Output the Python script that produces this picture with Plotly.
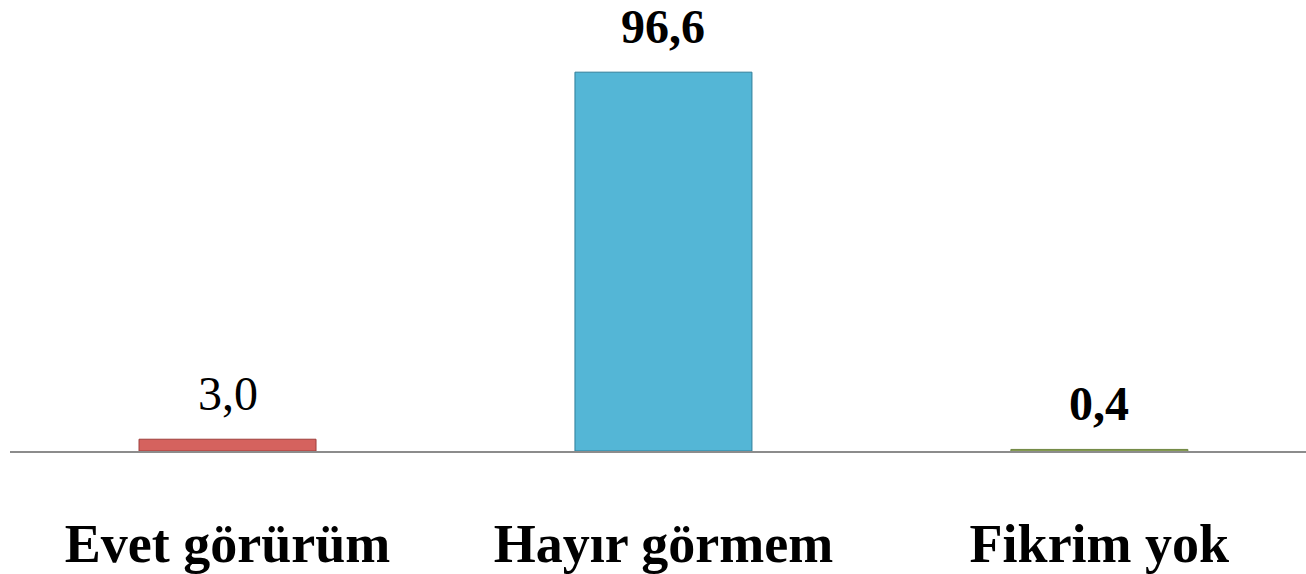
import plotly.graph_objects as go

categories = ["Evet görürüm", "Hayır görmem", "Fikrim yok"]
values = [3.0, 96.6, 0.4]
value_labels = ["3,0", "96,6", "0,4"]
label_weights = ["normal", "bold", "bold"]
bar_colors = ["#D5625E", "#54B6D6", "#9BB463"]
edge_colors = ["#9E3F3C", "#2F7E99", "#6E8540"]

SERIF = "Liberation Serif, DejaVu Serif, serif"

fig = go.Figure()
fig.add_trace(go.Bar(
    x=categories, y=values, width=0.406,
    marker=dict(color=bar_colors, line=dict(color=edge_colors, width=1)),
    hoverinfo="skip",
))

for c, v, t, w in zip(categories, values, value_labels, label_weights):
    fig.add_annotation(
        x=c, y=v, text=t, showarrow=False, xanchor="center", yanchor="bottom",
        yshift=17,
        font=dict(family=SERIF, size=48, color="#000000", weight=w),
    )

fig.update_layout(
    width=1306, height=574,
    margin=dict(l=10, r=0, t=0, b=123, autoexpand=False),
    paper_bgcolor="white", plot_bgcolor="white",
    showlegend=False,
    font=dict(family=SERIF),
    xaxis=dict(
        type="category", range=[-0.499, 2.474], automargin=False,
        showline=True, linecolor="#8C8C8C", linewidth=2,
        showgrid=False, zeroline=False, ticks="",
        tickfont=dict(family=SERIF, size=54, color="#000000", weight="bold"),
        ticklabelstandoff=44,
    ),
    yaxis=dict(range=[0, 115], visible=False, showgrid=False, zeroline=False),
)

fig.write_html(
    "out.html",
    config={"displayModeBar": False},
    post_script="document.body.style.margin='0';document.body.style.overflow='hidden';",
)
